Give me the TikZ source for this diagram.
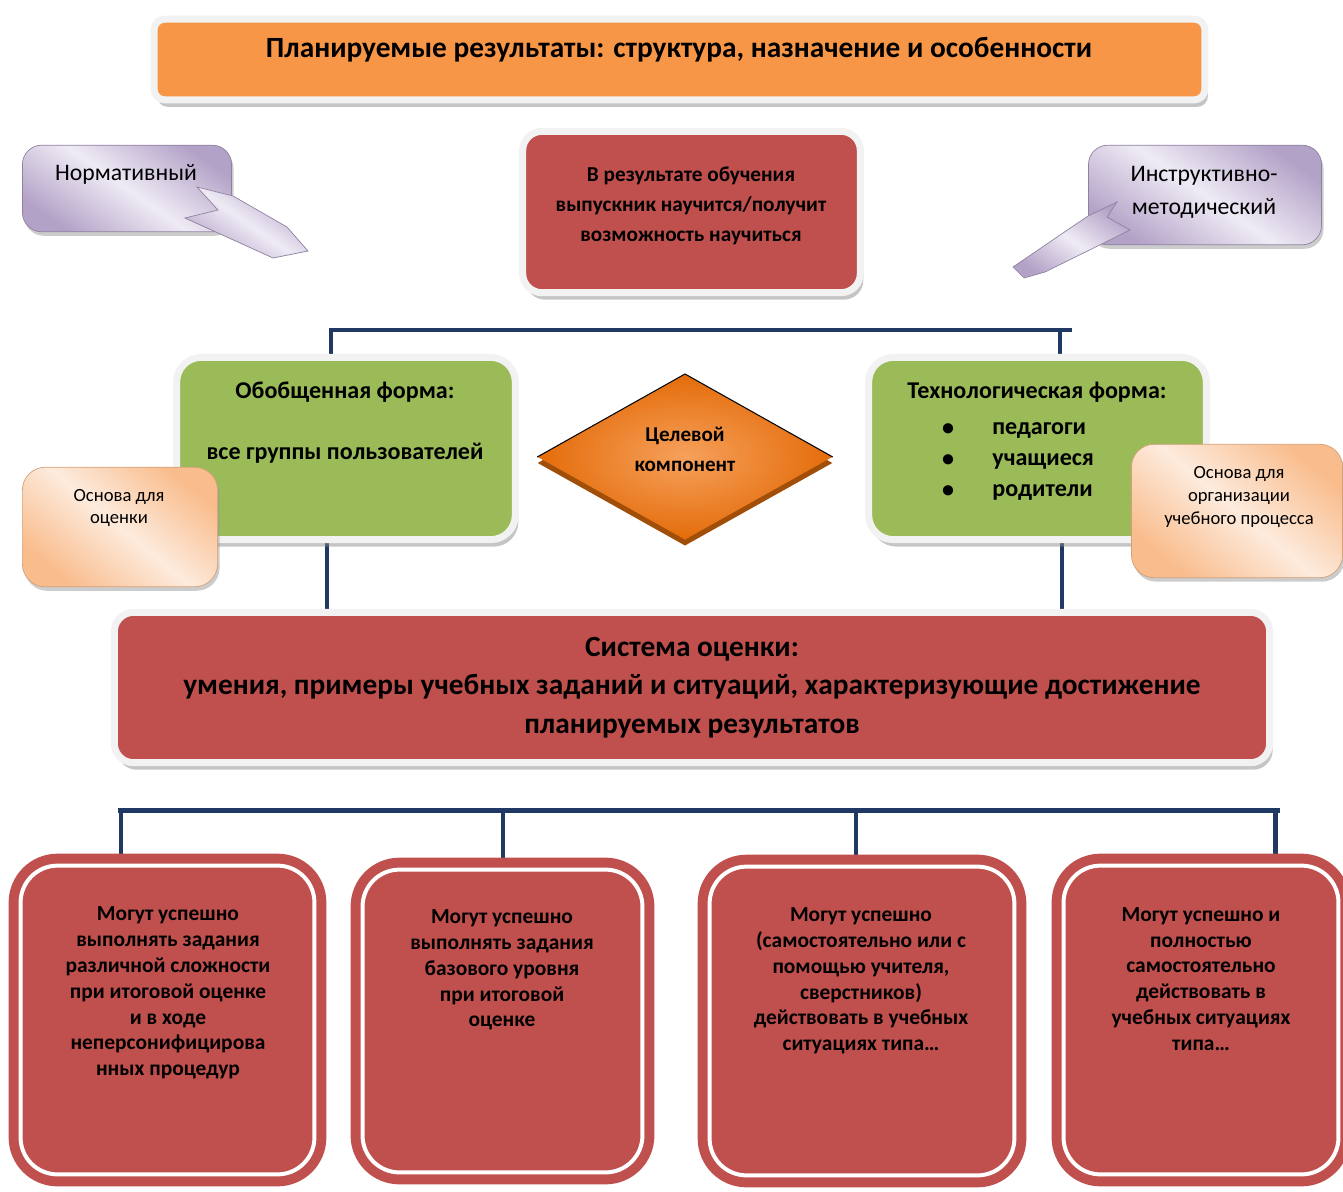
\documentclass[tikz,border=0pt]{standalone}
\usepackage{fontspec}
\setmainfont{Carlito}
\usepackage{xcolor}
\usetikzlibrary{positioning, shapes.geometric, shadows, calc}
\pgfdeclarelayer{background}
\pgfsetlayers{background,main}

\newlength{\px}
\setlength{\px}{0.5669pt}

\definecolor{planorange}{HTML}{F79646}
\definecolor{planred}{HTML}{C0504D}
\definecolor{plangreen}{HTML}{9BBB59}
\definecolor{busnavy}{HTML}{1F3864}
\definecolor{lilacdark}{HTML}{B3A2C7}
\definecolor{lilaclight}{HTML}{EFEBF5}
\definecolor{peachdark}{HTML}{F9BC8C}
\definecolor{peachlight}{HTML}{FDEBDD}
\definecolor{goalorange}{HTML}{E46C0A}
\definecolor{goallight}{HTML}{F6A15C}
\definecolor{goalshade}{HTML}{A04E08}

\tikzset{
  plate/.style={rounded corners=#1, draw=black!5, line width=7\px,
    drop shadow={shadow xshift=3\px, shadow yshift=-7\px, fill=black!45, opacity=.5}},
  plate/.default=8pt,
  bus/.style={draw=busnavy, line width=5\px},
  lilac/.style={draw=lilacdark!80!black, line width=.4pt,
    top color=lilacdark, bottom color=lilacdark, middle color=lilaclight, shading angle=-35},
  callout/.style={lilac, rounded corners=11pt,
    drop shadow={shadow xshift=2\px, shadow yshift=-4\px, fill=black!40, opacity=.5}},
  note/.style={rounded corners=13pt, draw=peachdark!85!black, line width=.4pt,
    top color=peachdark, bottom color=peachdark, middle color=peachlight, shading angle=-40,
    drop shadow={shadow xshift=2\px, shadow yshift=-4\px, fill=black!40, opacity=.5}},
  card/.style={draw=planred, double=white, double distance=4\px, line width=10\px,
    fill=planred, rounded corners=21pt},
  txt/.style={align=center, inner sep=0pt},
}

\begin{document}
\begin{tikzpicture}[x=0.02cm, y=-0.02cm]
\useasboundingbox (0,0) rectangle (1343,1191);

% title
\node[plate=6pt, fill=planorange, minimum width=1055\px, minimum height=81\px] (title) at (679.5,59.5) {};
\node[txt, font=\bfseries\fontsize{16.7}{20}\selectfont] (titletext) at (679,50)
  {Планируемые результаты: структура, назначение и особенности};

% learning result
\node[plate=11pt, fill=planred, minimum width=339\px, minimum height=162\px] (result) at (691.5,212) {};
\node[txt, font=\bfseries\fontsize{12.1}{17}\selectfont] (resulttext) at (691,206)
  {В результате обучения\\выпускник научится/получит\\возможность научиться};

% callouts
\node[callout, minimum width=210\px, minimum height=87\px] (norm) at (127,188.5) {};
\draw[lilac] (197,187) -- (218,210) -- (185,218) -- (273,258) -- (308,251) -- (287,227) -- (233,196) -- cycle;
\node[txt, font=\fontsize{13.5}{18}\selectfont] (normtext) at (126,174) {Нормативный};

\node[callout, minimum width=234\px, minimum height=100\px] (instr) at (1205,195) {};
\draw[lilac] (1013,267) -- (1088,216) -- (1117,202) -- (1107,217) -- (1130,230) -- (1045,272) -- (1024,278) -- cycle;
\node[txt, font=\fontsize{13.5}{18.7}\selectfont] (instrtext) at (1204,192) {Инструктивно-\\методический};

% forms
\node[plate=14pt, fill=plangreen, minimum width=340\px, minimum height=183\px] (gl) at (346,448.5) {};
\node[txt, font=\bfseries\fontsize{13.7}{16}\selectfont] (gltitle) at (345,392) {Обобщенная форма:};
\node[txt, font=\bfseries\fontsize{13.7}{16}\selectfont] (glusers) at (345,453) {все группы пользователей};

\node[plate=14pt, fill=plangreen, minimum width=339\px, minimum height=183\px] (gr) at (1037.5,448.5) {};
\node[txt, font=\bfseries\fontsize{13.7}{16}\selectfont] (grtitle) at (1037,392) {Технологическая форма:};
\foreach \y/\w in {430/педагоги, 461/учащиеся, 492/родители} {
  \node[txt, font=\bfseries\fontsize{13.7}{16}\selectfont] (dot\y) at (948,\y) {\textbullet};
  \node[txt, anchor=west, font=\bfseries\fontsize{13.7}{16}\selectfont] (item\y) at (992,\y) {\w};
}

% goal
\node[diamond, minimum width=296\px, minimum height=166\px, inner sep=0pt,
  inner color=goallight, outer color=goalorange,
  drop shadow={shadow xshift=0pt, shadow yshift=-6\px, fill=goalshade, opacity=1}] (goal) at (685,457) {};
\draw[black, line width=.6pt] (goal.west) -- (goal.north) -- (goal.east);
\node[txt, font=\bfseries\fontsize{12}{17}\selectfont] (goaltext) at (685,449) {Целевой\\компонент};

% notes
\node[note, minimum width=196\px, minimum height=120\px] (noteL) at (120,527) {};
\node[txt, font=\fontsize{10.6}{13}\selectfont] (noteLtext) at (119,508) {Основа для\\оценки};
\node[note, minimum width=212\px, minimum height=134\px] (noteR) at (1237,511) {};
\node[txt, font=\fontsize{10.6}{13}\selectfont] (noteRtext) at (1239,497) {Основа для\\организации\\учебного процесса};

% assessment
\node[plate=11pt, fill=planred, minimum width=1160\px, minimum height=151\px,
  txt, font=\bfseries\fontsize{16.7}{22}\selectfont] (sys) at (692,687.5)
  {Система оценки:\\умения, примеры учебных заданий и ситуаций, характеризующие достижение\\планируемых результатов};

% levels
\node[card, minimum width=295\px, minimum height=310\px] (b1) at (167.5,1020) {};
\node[card, minimum width=281\px, minimum height=304\px] (b2) at (502.5,1021) {};
\node[card, minimum width=306\px, minimum height=310\px] (b3) at (862,1021) {};
\node[card, minimum width=276\px, minimum height=310\px] (b4) at (1201,1020) {};
\node[txt, font=\bfseries\fontsize{12.2}{14.7}\selectfont] (b1text) at (168,993)
  {Могут успешно\\выполнять задания\\различной сложности\\при итоговой оценке\\и в ходе\\неперсонифицирова\\нных процедур};
\node[txt, font=\bfseries\fontsize{12.2}{14.7}\selectfont] (b2text) at (502,970)
  {Могут успешно\\выполнять задания\\базового уровня\\при итоговой\\оценке};
\node[txt, font=\bfseries\fontsize{12.2}{14.7}\selectfont] (b3text) at (861,981)
  {Могут успешно\\(самостоятельно или с\\помощью учителя,\\сверстников)\\действовать в учебных\\ситуациях типа…};
\node[txt, font=\bfseries\fontsize{12.2}{14.7}\selectfont] (b4text) at (1201,979)
  {Могут успешно и\\полностью\\самостоятельно\\действовать в\\учебных ситуациях\\типа…};

% bus lines
\begin{pgfonlayer}{background}
\draw[bus] (331,0 |- gl.north) -- (331,330) -- (1072,330);
\draw[bus] (1060,330) -- (1060,0 |- gr.north);
\draw[bus] (327,0 |- gl.south) -- (327,0 |- sys.north);
\draw[bus] (1062,0 |- gr.south) -- (1062,0 |- sys.north);
\draw[bus] (118,810) -- (1280,810);
\foreach \x/\b in {121/b1, 503/b2, 856/b3, 1275/b4}
  \draw[bus] (\x,810) -- (\x,0 |- \b.north);
\end{pgfonlayer}
\end{tikzpicture}
\end{document}
